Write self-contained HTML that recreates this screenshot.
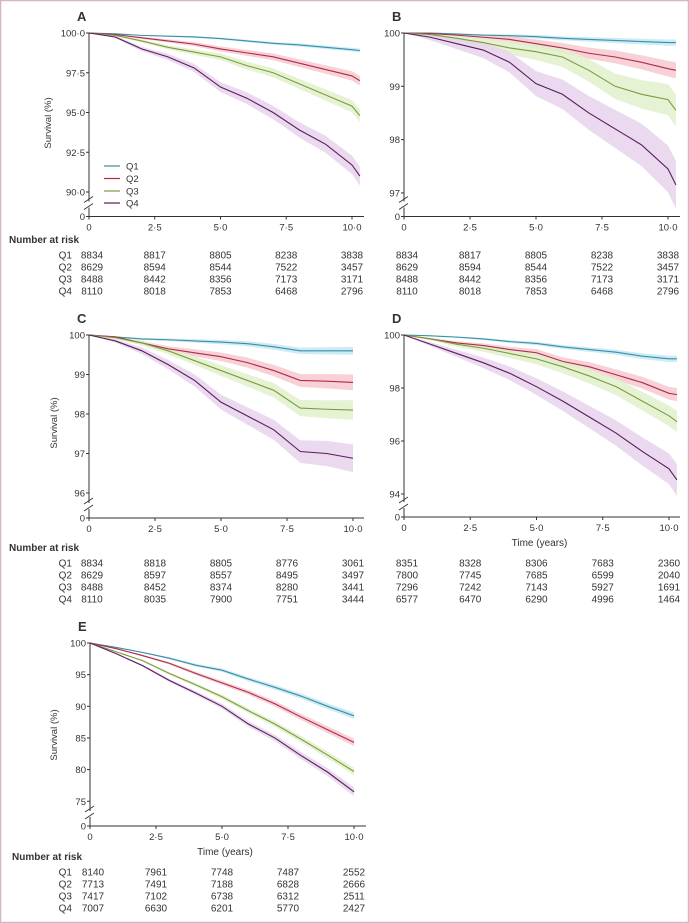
<!DOCTYPE html>
<html><head><meta charset="utf-8">
<style>
html,body{margin:0;padding:0;background:#fff;}
svg{display:block;font-family:"Liberation Sans",sans-serif;}
</style></head>
<body>
<svg id="fig" width="689" height="923" viewBox="0 0 689 923" xmlns="http://www.w3.org/2000/svg">
<rect x="0.5" y="0.5" width="688" height="922" fill="#fff" stroke="#d6b6c6" stroke-width="1.5"/>
</svg>
<script>
// ---- data ----
const groups = ["Q1","Q2","Q3","Q4"];
const timesLong = [0,1,2,3,4,5,6,7,8,9,10,10.3];
const timesShort = [0,1,2,3,4,5,6,7,8,9,10];
const xTickValues = [0,2.5,5,7.5,10];
const xTickLabels = ["0","2·5","5·0","7·5","10·0"];

const aQ1 = [100,99.95,99.85,99.8,99.75,99.65,99.5,99.35,99.25,99.1,98.95,98.9];
const aQ2 = [100,99.9,99.7,99.5,99.3,99.0,98.75,98.5,98.1,97.7,97.3,97.0];
const aQ3 = [100,99.85,99.5,99.1,98.8,98.5,97.95,97.5,96.8,96.1,95.4,94.8];
const aQ4 = [100,99.75,99.0,98.5,97.8,96.6,95.9,95.0,93.9,93.0,91.7,91.0];
const aCI = [0.12,0.3,0.4,0.6];
const aYTicks = [100,97.5,95,92.5,90];
const aYLabels = ["100·0","97·5","95·0","92·5","90·0"];
const aRisk = [[8834,8817,8805,8238,3838],[8629,8594,8544,7522,3457],[8488,8442,8356,7173,3171],[8110,8018,7853,6468,2796]];

const bQ1 = [100,100,99.98,99.96,99.95,99.93,99.9,99.88,99.86,99.84,99.82,99.82];
const bQ2 = [100,99.99,99.96,99.92,99.88,99.8,99.72,99.62,99.55,99.45,99.33,99.3];
const bQ3 = [100,99.97,99.9,99.82,99.72,99.65,99.55,99.3,99.0,98.85,98.75,98.55];
const bQ4 = [100,99.92,99.8,99.68,99.45,99.05,98.85,98.5,98.2,97.9,97.45,97.15];
const bCI = [0.06,0.15,0.3,0.45];
const bYTicks = [100,99,98,97];
const bYLabels = ["100","99","98","97"];
const bRisk = aRisk;

const cQ1 = [100,99.95,99.9,99.88,99.85,99.82,99.78,99.7,99.6,99.6,99.6];
const cQ2 = [100,99.95,99.8,99.65,99.55,99.45,99.3,99.1,98.85,98.83,98.8];
const cQ3 = [100,99.93,99.8,99.6,99.35,99.1,98.85,98.6,98.15,98.12,98.1];
const cQ4 = [100,99.85,99.6,99.25,98.85,98.3,97.95,97.6,97.05,97.0,96.88];
const cCI = [0.1,0.2,0.25,0.35];
const cYTicks = [100,99,98,97,96];
const cYLabels = ["100","99","98","97","96"];
const cRisk = [[8834,8818,8805,8776,3061],[8629,8597,8557,8495,3497],[8488,8452,8374,8280,3441],[8110,8035,7900,7751,3444]];

const dQ1 = [100,99.97,99.92,99.85,99.75,99.68,99.55,99.45,99.35,99.2,99.1,99.1];
const dQ2 = [100,99.85,99.7,99.6,99.45,99.33,99.0,98.8,98.5,98.2,97.8,97.75];
const dQ3 = [100,99.85,99.65,99.5,99.3,99.1,98.8,98.45,98.05,97.5,96.95,96.73];
const dQ4 = [100,99.65,99.3,98.95,98.55,98.05,97.5,96.9,96.3,95.6,94.95,94.53];
const dCI = [0.12,0.25,0.4,0.6];
const dYTicks = [100,98,96,94];
const dYLabels = ["100","98","96","94"];
const dRisk = [[8351,8328,8306,7683,2360],[7800,7745,7685,6599,2040],[7296,7242,7143,5927,1691],[6577,6470,6290,4996,1464]];

const eQ1 = [100,99.3,98.5,97.6,96.5,95.7,94.3,93.0,91.6,90.0,88.5];
const eQ2 = [100,99.1,98.0,96.8,95.2,93.7,92.2,90.4,88.3,86.3,84.3];
const eQ3 = [100,98.6,97.2,95.2,93.4,91.5,89.3,87.2,84.8,82.3,79.7];
const eQ4 = [100,98.3,96.4,94.1,92.1,90.0,87.2,85.0,82.2,79.6,76.5];
const eCI = [0.5,0.6,0.6,0.7];
const eYTicks = [100,95,90,85,80,75];
const eYLabels = ["100","95","90","85","80","75"];
const eRisk = [[8140,7961,7748,7487,2552],[7713,7491,7188,6828,2666],[7417,7102,6738,6312,2511],[7007,6630,6201,5770,2427]];

// ---- styles ----
const lineCols = ["#3b8ea6","#b02a4c","#7c9c3c","#5a1d5c"];
const bandCols = ["#c3e8f3","#f6c9cf","#e2f0cc","#e8d3ec"];
const NS = "http://www.w3.org/2000/svg";
const svg = document.getElementById("fig");

function mk(tag, attrs, parent){
  const e = document.createElementNS(NS, tag);
  for (const k in attrs) e.setAttribute(k, attrs[k]);
  (parent||svg).appendChild(e);
  return e;
}
function txt(s, x, y, size, anchor, parent, weight){
  const t = mk("text", {x:x, y:y, "font-size":size, "text-anchor":anchor||"start", fill:"#333", "font-weight":weight||"normal"}, parent);
  t.textContent = s;
  return t;
}

function drawPanel(p){
  const g = mk("g", {});
  
  
  const xS = t => p.x0 + t * p.pxYear;
  const yS = v => p.yTop + (p.vTop - v) * p.pxUnit;
  // panel letter
  const lt = txt(p.id, p.x0 - 12, p.yTop - 12, 13, "start", g, "bold");
  
  
  // bands & lines
  for (let s = 0; s < 4; s++){
    const vals = p.series[s];
    const tEnd = p.times[p.times.length-1];
    let up = [], lo = [];
    for (let i = 0; i < vals.length; i++){
      const hw = p.ci[s] * Math.pow(p.times[i]/tEnd, 0.9);
      up.push(xS(p.times[i]) + "," + yS(vals[i] + hw));
      lo.unshift(xS(p.times[i]) + "," + yS(vals[i] - hw));
    }
    const band = mk("polygon", {points: up.concat(lo).join(" "), fill: bandCols[s], opacity: 0.85}, g);
    
    
  }
  for (let s = 0; s < 4; s++){
    const vals = p.series[s];
    const pts = vals.map((v,i) => xS(p.times[i]) + "," + yS(v)).join(" ");
    const ln = mk("polyline", {points: pts, fill:"none", stroke: lineCols[s], "stroke-width":1.1}, g);
    
    
  }
  // axes
  const brk = p.axisY - 12;
  const ya = mk("path", {d: "M"+p.x0+","+yS(p.vTop)+" V"+(brk-3)+" M"+p.x0+","+(brk+3)+" V"+p.axisY, stroke:"#333", "stroke-width":1, fill:"none"}, g);
  
  
  const sl = mk("path", {d: "M"+(p.x0-5)+","+(brk-2)+" l9,-6 M"+(p.x0-5)+","+(brk+5)+" l9,-6", stroke:"#333", "stroke-width":0.9, fill:"none"}, g);
  
  
  const xa = mk("line", {x1:p.x0, x2:p.xEnd, y1:p.axisY, y2:p.axisY, stroke:"#333", "stroke-width":1}, g);
  
  
  // y ticks
  p.yTicks.forEach((v,i) => {
    const y = yS(v);
    mk("line", {x1:p.x0-3, x2:p.x0, y1:y, y2:y, stroke:"#333"}, g);
    const t = txt(p.yLabels[i], p.x0-4, y+3.5, 9.5, "end", g);
    
    
  });
  mk("line", {x1:p.x0-3, x2:p.x0, y1:p.axisY, y2:p.axisY, stroke:"#333"}, g);
  const z = txt("0", p.x0-4, p.axisY+3.5, 9.5, "end", g);
  
  
  // x ticks
  xTickValues.forEach((v,i) => {
    const x = xS(v);
    mk("line", {x1:x, x2:x, y1:p.axisY, y2:p.axisY+3, stroke:"#333"}, g);
    const t = txt(xTickLabels[i], x, p.axisY+14, 9.5, "middle", g);
    
    
  });
  if (p.yTitle){
    const yt = txt("Survival (%)", 0, 0, 9.5, "middle", g);
    yt.setAttribute("transform", "translate("+p.yTitleX+","+p.yTitleY+") rotate(-90)");
    
    
  }
  if (p.xTitle){
    const xt = txt("Time (years)", xS(5) + 3, p.axisY+29, 10, "middle", g);
    
    
  }
  // risk table
  const tg = mk("g", {}, g);
  
  
  if (p.riskHeader){
    const h = txt("Number at risk", p.riskHeaderX, p.riskY0 - 12, 10, "start", tg, "bold");
    
    
  }
  p.risk.forEach((row, r) => {
    const y = p.riskY0 + r * 12 + 3.5;
    if (p.rowLabels){
      const rl = txt(groups[r], 72, y, 10, "end", tg);
      
      
    }
    row.forEach((n, c) => {
      const t = txt(String(n), xS(xTickValues[c]) + (c===0 ? 3 : 0), y, 10, "middle", tg);
      
      
    });
  });
}

// legend in panel A
function drawLegend(){
  const lg = mk("g", {});
  
  
  const ys = [166,178.5,191,203];
  groups.forEach((q,i) => {
    mk("line", {x1:104, x2:120, y1:ys[i], y2:ys[i], stroke:lineCols[i], "stroke-width":1.2}, lg);
    const t = txt(q, 126, ys[i]+3.5, 9.5, "start", lg);
    
    
  });
}

drawPanel({id:"A", x0:89, pxYear:26.3, xEnd:364, yTop:33, vTop:100, pxUnit:15.9, axisY:216.5,
  times:timesLong, series:[aQ1,aQ2,aQ3,aQ4], ci:aCI, yTicks:aYTicks, yLabels:aYLabels,
  yTitle:true, yTitleX:51, yTitleY:123, risk:aRisk, riskY0:255, riskHeader:true, riskHeaderX:9, rowLabels:true});
drawPanel({id:"B", x0:404, pxYear:26.4, xEnd:680, yTop:33, vTop:100, pxUnit:53.3, axisY:216.5,
  times:timesLong, series:[bQ1,bQ2,bQ3,bQ4], ci:bCI, yTicks:bYTicks, yLabels:bYLabels,
  risk:bRisk, riskY0:255});
drawPanel({id:"C", x0:89, pxYear:26.4, xEnd:364, yTop:335, vTop:100, pxUnit:39.5, axisY:518,
  times:timesShort, series:[cQ1,cQ2,cQ3,cQ4], ci:cCI, yTicks:cYTicks, yLabels:cYLabels,
  yTitle:true, yTitleX:57, yTitleY:423, risk:cRisk, riskY0:563, riskHeader:true, riskHeaderX:9, rowLabels:true});
drawPanel({id:"D", x0:404, pxYear:26.5, xEnd:680, yTop:335, vTop:100, pxUnit:26.5, axisY:517,
  times:timesLong, series:[dQ1,dQ2,dQ3,dQ4], ci:dCI, yTicks:dYTicks, yLabels:dYLabels,
  xTitle:true, risk:dRisk, riskY0:563});
drawPanel({id:"E", x0:90, pxYear:26.4, xEnd:366, yTop:643, vTop:100, pxUnit:6.33, axisY:826,
  times:timesShort, series:[eQ1,eQ2,eQ3,eQ4], ci:eCI, yTicks:eYTicks, yLabels:eYLabels,
  yTitle:true, yTitleX:57, yTitleY:735, xTitle:true, risk:eRisk, riskY0:872, riskHeader:true, riskHeaderX:12, rowLabels:true});
drawLegend();
</script>
</body></html>
